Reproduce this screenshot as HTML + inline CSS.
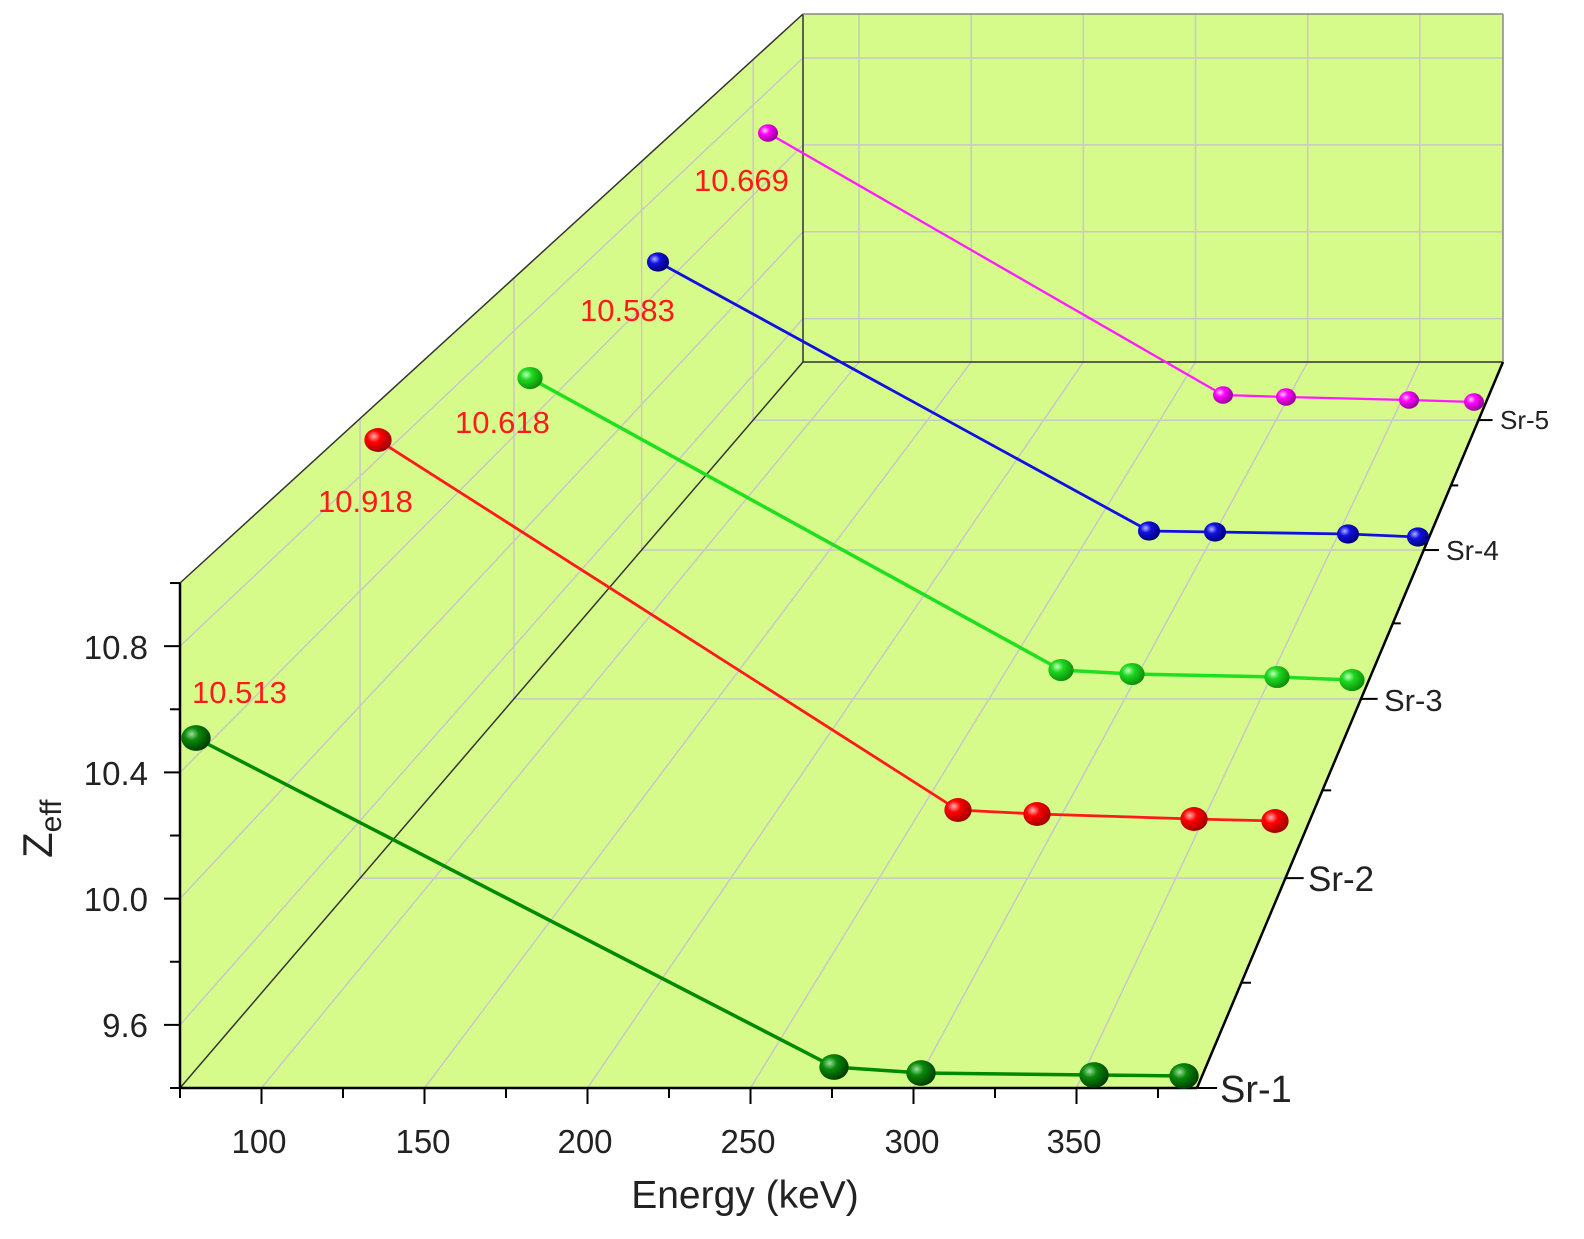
<!DOCTYPE html>
<html><head><meta charset="utf-8"><style>
html,body{margin:0;padding:0;background:#fff}
svg{display:block}
text{font-family:"Liberation Sans",Arial,sans-serif}
</style></head><body>
<svg id="s" width="1584" height="1239" viewBox="0 0 1584 1239" xmlns="http://www.w3.org/2000/svg">
<defs>
<radialGradient id="g1" cx="0.35" cy="0.35" r="0.7"><stop offset="0" stop-color="#9fe09f"/><stop offset="0.35" stop-color="#0a8a0a"/><stop offset="1" stop-color="#003a00"/></radialGradient>
<radialGradient id="g2" cx="0.35" cy="0.35" r="0.7"><stop offset="0" stop-color="#ffb0b0"/><stop offset="0.35" stop-color="#f00"/><stop offset="1" stop-color="#900"/></radialGradient>
<radialGradient id="g3" cx="0.35" cy="0.35" r="0.7"><stop offset="0" stop-color="#c0ffc0"/><stop offset="0.35" stop-color="#1ed81e"/><stop offset="1" stop-color="#0a8a0a"/></radialGradient>
<radialGradient id="g4" cx="0.35" cy="0.35" r="0.7"><stop offset="0" stop-color="#b0b0ff"/><stop offset="0.35" stop-color="#1010e0"/><stop offset="1" stop-color="#000070"/></radialGradient>
<radialGradient id="g5" cx="0.35" cy="0.35" r="0.7"><stop offset="0" stop-color="#ffc0ff"/><stop offset="0.35" stop-color="#f0f"/><stop offset="1" stop-color="#900090"/></radialGradient>
</defs>
<polygon points="180,583 803,14 803,362 180,1088" fill="#d7fb8a"/>
<polygon points="803,14 1503,14 1503,362 803,362" fill="#d7fb8a"/>
<polygon points="180,1088 803,362 1503,362 1197,1088" fill="#d7fb8a"/>
<g id="grid" stroke="#c8c8c8" stroke-width="1.5" fill="none"></g>
<g stroke="#333" stroke-width="1.5" fill="none">
<line x1="180" y1="583" x2="803" y2="14"/>
<line x1="180" y1="1088" x2="803" y2="362"/>
<line x1="803" y1="14" x2="803" y2="362"/>
<line x1="803" y1="362" x2="1503" y2="362"/>
<line x1="803" y1="14" x2="1503" y2="14" stroke="#888"/>
<line x1="1503" y1="14" x2="1503" y2="362" stroke="#888"/>
</g>
<g stroke="#000" stroke-width="2.5" fill="none">
<line x1="180" y1="583" x2="180" y2="1088"/>
<line x1="180" y1="1088" x2="1197" y2="1088"/>
<line x1="1197" y1="1088" x2="1503" y2="362"/>
</g>
<g id="ticks" stroke="#000" stroke-width="2"></g>
<g fill="none" stroke-width="3.5">
<polyline stroke="#008a00" points="196,738 834,1067 921,1073 1094,1075 1184,1076"/>
<polyline stroke="#ff1a1a" stroke-width="2.8" points="378,440 958,810 1037,814 1194,819 1275,821"/>
<polyline stroke="#1ee01e" points="530,378 1061,670 1132,674 1277,677 1352,680"/>
<polyline stroke="#1010e0" stroke-width="2.8" points="658,262 1149,531 1215,532 1348,534 1418,537"/>
<polyline stroke="#ff1aff" stroke-width="2.3" points="768,133 1223,395 1286,397 1409,400 1474,402"/>
</g>
<g id="marks"></g>
<g fill="#ff1a1a" font-size="31">
<text x="192" y="703">10.513</text>
<text x="318" y="512">10.918</text>
<text x="455" y="433">10.618</text>
<text x="580" y="321">10.583</text>
<text x="694" y="191">10.669</text>
</g>
<g font-size="33" fill="#222" text-anchor="end">
<text x="148" y="659">10.8</text>
<text x="148" y="785">10.4</text>
<text x="148" y="911">10.0</text>
<text x="148" y="1037">9.6</text>
</g>
<g font-size="33" fill="#222" text-anchor="middle">
<text x="259" y="1153">100</text>
<text x="423" y="1153">150</text>
<text x="585" y="1153">200</text>
<text x="748" y="1153">250</text>
<text x="912" y="1153">300</text>
<text x="1074" y="1153">350</text>
</g>
<text x="745" y="1208" font-size="39" fill="#222" text-anchor="middle">Energy (keV)</text>
<text transform="translate(52,858) rotate(-90)" font-size="42" fill="#222">Z<tspan font-size="30" dy="9">eff</tspan></text>
<g fill="#222">
<text x="1220" y="1102" font-size="38">Sr-1</text>
<text x="1308" y="891" font-size="35">Sr-2</text>
<text x="1384" y="711" font-size="31">Sr-3</text>
<text x="1446" y="560" font-size="28">Sr-4</text>
<text x="1500" y="429" font-size="26">Sr-5</text>
</g>
<script>
(function(){
var NS="http://www.w3.org/2000/svg";
function L(g,x1,y1,x2,y2){var l=document.createElementNS(NS,"line");l.setAttribute("x1",x1);l.setAttribute("y1",y1);l.setAttribute("x2",x2);l.setAttribute("y2",y2);g.appendChild(l);}
var grid=document.getElementById("grid"),ticks=document.getElementById("ticks");
function fx(t){return 180+623*t;} function fy(t){return 1088-726*t;} function sc(t){return 1-0.312*t;}
function X(E,t){return fx(t)+(E-75)*3.26*sc(t);} function Y(v,t){return fy(t)-(v-9.4)*315.6*sc(t);}
var Es=[100,150,200,250,300,350], Vs=[9.6,10.0,10.4,10.8], Ts=[0.289,0.536,0.741,0.92];
Es.forEach(function(E){L(grid,X(E,0),1088,X(E,1),362);L(grid,X(E,1),362,X(E,1),14);});
Vs.forEach(function(v){L(grid,180,Y(v,0),803,Y(v,1));L(grid,803,Y(v,1),1503,Y(v,1));});
Ts.forEach(function(t){L(grid,fx(t),fy(t),fx(t),Y(11,t));L(grid,fx(t),fy(t),X(387,t),fy(t));});
for(var v=9.4;v<=11.001;v+=0.2){var y=Y(v,0);var major=Math.abs(((v-9.6)/0.4)-Math.round((v-9.6)/0.4))<0.01;L(ticks,major?164:170,y,180,y);}
for(var E=75;E<=387;E+=25){var x=X(E,0);L(ticks,x,1088,x,E%50==0?1104:1098);}
[0,0.289,0.536,0.741,0.92].forEach(function(t){var x=X(387,t),y=fy(t);L(ticks,x,y,x+20*sc(t),y);});
[0.145,0.41,0.64,0.83].forEach(function(t){var x=X(387,t),y=fy(t);L(ticks,x,y,x+10*sc(t),y);});
var m=document.getElementById("marks");
var S=[[14,1,[[196,738],[834,1067],[921,1073],[1094,1075],[1184,1076]]],
[13,2,[[378,440],[958,810],[1037,814],[1194,819],[1275,821]]],
[12,3,[[530,378],[1061,670],[1132,674],[1277,677],[1352,680]]],
[10.5,4,[[658,262],[1149,531],[1215,532],[1348,534],[1418,537]]],
[9.5,5,[[768,133],[1223,395],[1286,397],[1409,400],[1474,402]]]];
S.forEach(function(s){s[2].forEach(function(p){var c=document.createElementNS(NS,"ellipse");c.setAttribute("cx",p[0]);c.setAttribute("cy",p[1]);c.setAttribute("rx",s[0]*1.05);c.setAttribute("ry",s[0]*0.92);c.setAttribute("fill","url(#g"+s[1]+")");m.appendChild(c);});});
})();
</script>
</svg>
</body></html>
